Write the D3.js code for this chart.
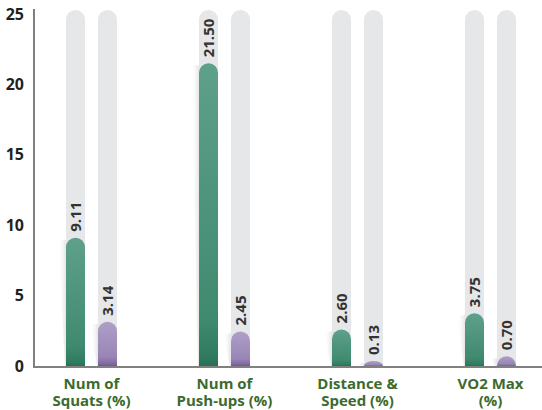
<!DOCTYPE html>
<html>
<head>
<script src="https://cdnjs.cloudflare.com/ajax/libs/d3/7.8.5/d3.min.js"></script>
<style>
  body { margin: 0; background: #fff; }
  svg { display: block; font-family: "Open Sans", sans-serif; }
</style>
</head>
<body>
<div id="chart"></div>
<script>
  // chart values
  const categories = ["Num of|Squats (%)", "Num of|Push-ups (%)", "Distance &|Speed (%)", "VO2 Max|(%)"];
  const series = ["green", "purple"];
  const greenValues = [9.11, 21.50, 2.60, 3.75];
  const purpleValues = [3.14, 2.45, 0.13, 0.70];
  const yTicks = [0, 5, 10, 15, 20, 25];
  const yMax = 25;

  const width = 542, height = 410;
  const axisX = 34, baseY = 367;

  const svg = d3.select("#chart").append("svg")
      .attr("width", width)
      .attr("height", height);

  const defs = svg.append("defs");
  function vGrad(id, stops) {
    const g = defs.append("linearGradient").attr("id", id)
        .attr("x1", 0).attr("y1", 0).attr("x2", 0).attr("y2", 1);
    stops.forEach(s => g.append("stop").attr("offset", s[0]).attr("stop-color", s[1]));
  }
  vGrad("g-green", [[0, "#5fa08b"], [0.85, "#3f8a6f"], [0.97, "#2f7b5f"], [1, "#2a6f55"]]);
  vGrad("g-purple", [[0, "#ae9fc7"], [0.8, "#9885b6"], [0.95, "#8069a2"], [1, "#6f5693"]]);
  const sh = defs.append("linearGradient").attr("id", "g-shadow")
      .attr("x1", 0).attr("y1", 0).attr("x2", 1).attr("y2", 0);
  sh.append("stop").attr("offset", 0).attr("stop-color", "#ffffff").attr("stop-opacity", 0);
  sh.append("stop").attr("offset", 1).attr("stop-color", "#cfcfd1").attr("stop-opacity", 0.55);

  const x0 = d3.scaleBand().domain(categories).range([25, 557]);
  const x1 = d3.scalePoint().domain(series).range([-16, 16]);
  const y = d3.scaleLinear().domain([0, yMax]).range([366, 14]);
  const barW = 19, r = barW / 2;

  const rows = categories.map((c, i) => ({
    cat: c,
    bars: [
      { s: "green", v: greenValues[i] },
      { s: "purple", v: purpleValues[i] }
    ]
  }));

  // bar with flat bottom and rounded top
  function roundTop(cx, top, bottom) {
    const h = Math.max(bottom - top, 5);
    const t = bottom - h;
    const ry = Math.min(r, h);
    const xl = cx - r, xr = cx + r;
    return `M${xl},${bottom}L${xl},${t + ry}A${r},${ry} 0 0 1 ${xr},${t + ry}L${xr},${bottom}Z`;
  }

  const groups = svg.append("g").selectAll("g")
      .data(rows).join("g")
      .attr("transform", d => `translate(${x0(d.cat) + x0.bandwidth() / 2},0)`);

  const bar = groups.selectAll("g.bar")
      .data(d => d.bars).join("g").attr("class", "bar");

  // background tracks
  bar.append("path")
      .attr("fill", "#e6e7e9")
      .attr("d", d => roundTop(x1(d.s), y(yMax) - 4, baseY));

  // soft shadow wedge left of each bar
  bar.append("path")
      .attr("fill", "url(#g-shadow)")
      .attr("d", d => {
        const xl = x1(d.s) - r, top = Math.min(y(d.v), baseY - 6) + 2;
        return `M${xl - 8},${top}L${xl},${top}L${xl},${baseY}L${xl - 1},${baseY}Z`;
      });

  bar.append("path")
      .attr("fill", d => d.s === "green" ? "url(#g-green)" : "url(#g-purple)")
      .attr("d", d => roundTop(x1(d.s), y(d.v), baseY - 1));

  bar.append("text")
      .attr("transform", d => `translate(${x1(d.s)},${Math.min(y(d.v), baseY - 6) - 6}) rotate(-90)`)
      .attr("dy", "0.36em")
      .attr("font-size", 15)
      .attr("font-weight", 700)
      .attr("fill", "#333")
      .text(d => d.v.toFixed(2));

  // y axis
  const yAxis = svg.append("g")
      .attr("transform", `translate(${axisX},0)`)
      .call(d3.axisLeft(y).tickValues(yTicks).tickSize(0).tickPadding(10).tickFormat(d3.format("d")));
  yAxis.select(".domain").remove();
  yAxis.selectAll("text")
      .attr("font-family", "Open Sans, sans-serif")
      .attr("font-size", 16)
      .attr("font-weight", 700)
      .attr("fill", "#231f20");

  svg.append("line")
      .attr("x1", axisX).attr("x2", axisX)
      .attr("y1", 9).attr("y2", baseY + 1)
      .attr("stroke", "#808080").attr("stroke-width", 2);
  svg.append("line")
      .attr("x1", axisX - 1).attr("x2", width)
      .attr("y1", baseY).attr("y2", baseY)
      .attr("stroke", "#808080").attr("stroke-width", 2);

  // category labels
  const catLabel = svg.append("g").selectAll("text")
      .data(categories).join("text")
      .attr("text-anchor", "middle")
      .attr("font-size", 15)
      .attr("font-weight", 700)
      .attr("fill", "#3c6b2d");
  catLabel.each(function(c) {
    const t = d3.select(this);
    const cx = x0(c) + x0.bandwidth() / 2;
    c.split("|").forEach((line, i) => {
      t.append("tspan").attr("x", cx).attr("y", 389 + i * 17).text(line);
    });
  });
</script>
</body>
</html>
